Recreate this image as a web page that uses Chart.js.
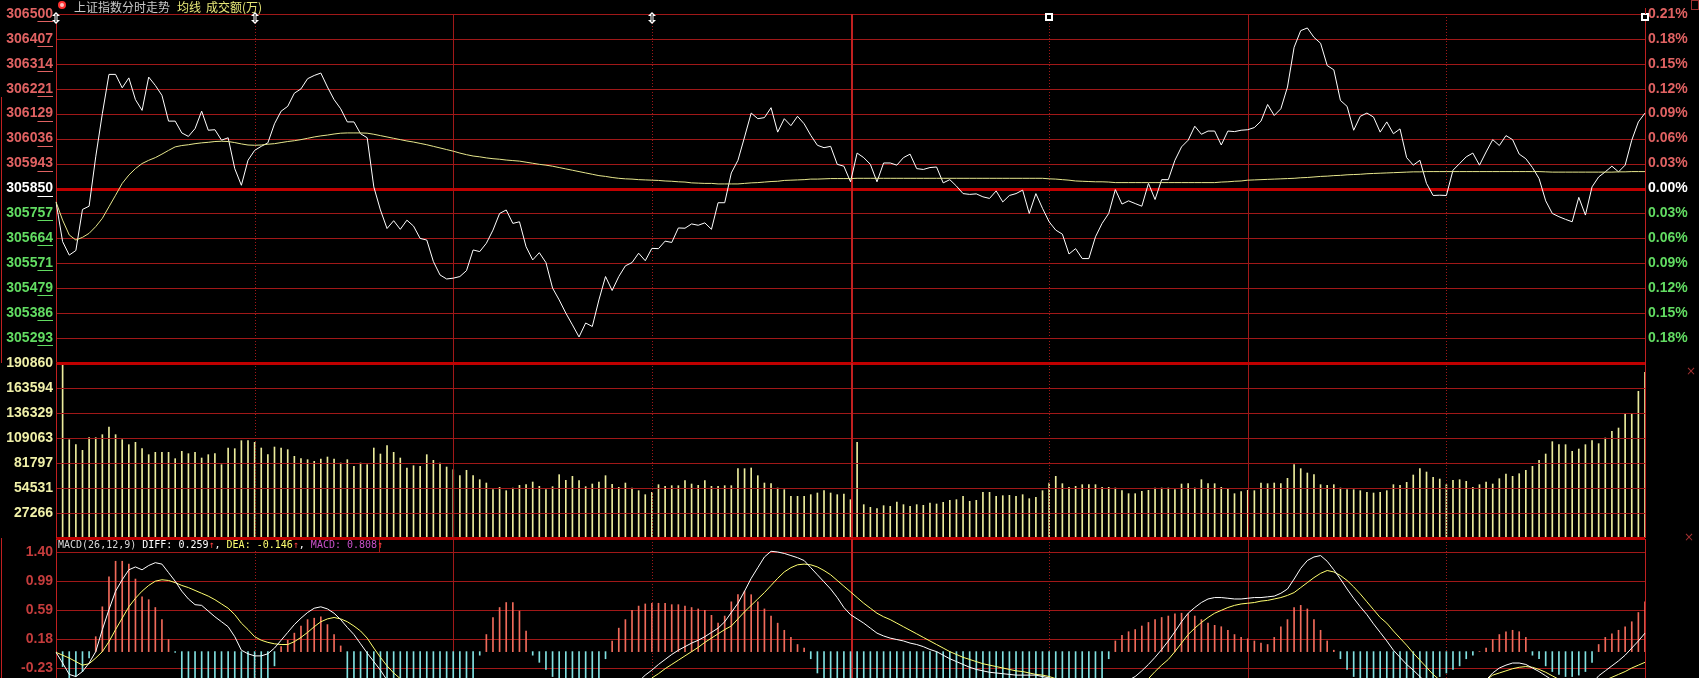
<!DOCTYPE html>
<html>
<head>
<meta charset="utf-8">
<title>上证指数分时走势</title>
<script src="https://cdn.jsdelivr.net/npm/chart.js@4.4.1/dist/chart.umd.min.js"></script>
<style>
  html, body { margin: 0; padding: 0; background: #000; overflow: hidden; }
  #wrap { position: relative; width: 1699px; height: 678px; }
  #wrap canvas { position: absolute; left: 0; top: 0; }
</style>
</head>
<body>
<div id="wrap">
  <canvas id="priceChart" width="1699" height="678"></canvas>
  <canvas id="volumeChart" width="1699" height="678"></canvas>
  <canvas id="macdChart" width="1699" height="678"></canvas>
</div>
<script>
// 分时价格 (每分钟一个点, 241 个)
const priceLine = [
  305800, 305652, 305602, 305619, 305772, 305784, 305968, 306129, 306275, 306275,
  306225, 306262, 306181, 306141, 306265, 306234, 306197, 306101, 306101, 306057,
  306044, 306073, 306138, 306067, 306069, 306030, 306039, 305924, 305862, 305955,
  305992, 306007, 306020, 306091, 306138, 306156, 306205, 306221, 306259, 306271,
  306280, 306228, 306181, 306147, 306098, 306098, 306054, 306039, 305856, 305770,
  305701, 305730, 305698, 305732, 305710, 305664, 305658, 305578, 305528, 305513,
  305516, 305522, 305544, 305621, 305615, 305646, 305695, 305757, 305770, 305720,
  305726, 305633, 305584, 305611, 305574, 305479, 305435, 305386, 305342, 305297,
  305349, 305336, 305435, 305522, 305470, 305522, 305562, 305574, 305609, 305581,
  305627, 305626, 305654, 305649, 305703, 305702, 305718, 305713, 305722, 305698,
  305797, 305797, 305908, 305955, 306042, 306131, 306110, 306114, 306151, 306060,
  306110, 306084, 306119, 306091, 306048, 306011, 306002, 306007, 305940, 305933,
  305875, 305982, 305965, 305940, 305875, 305945, 305945, 305937, 305965, 305978,
  305924, 305921, 305928, 305930, 305871, 305883, 305859, 305831, 305828, 305830,
  305819, 305813, 305841, 305800, 305824, 305831, 305844, 305757, 305831, 305776,
  305726, 305695, 305680, 305606, 305626, 305589, 305589, 305670, 305720, 305757,
  305846, 305792, 305804, 305794, 305784, 305869, 305809, 305883, 305883, 305955,
  306005, 306030, 306082, 306052, 306064, 306064, 306012, 306064, 306062, 306067,
  306069, 306077, 306101, 306163, 306122, 306147, 306228, 306376, 306438, 306448,
  306413, 306391, 306308, 306292, 306178, 306156, 306067, 306119, 306131, 306116,
  306060, 306098, 306054, 306072, 305965, 305937, 305955, 305869, 305824, 305825,
  305824, 305918, 305943, 305968, 305982, 305937, 305986, 306032, 306010, 306047,
  306032, 305978, 305961, 305928, 305887, 305804, 305757, 305745, 305735, 305726,
  305817, 305751, 305856, 305893, 305912, 305933, 305912, 305937, 306030, 306098,
  306131
];

// 均线
const avgLine = [
  305800, 305732, 305677, 305658, 305668, 305683, 305708, 305739, 305782, 305825,
  305869, 305900, 305924, 305943, 305955, 305965, 305978, 305992, 306005, 306010,
  306013, 306017, 306020, 306022, 306025, 306026, 306025, 306021, 306016, 306012,
  306011, 306012, 306015, 306017, 306021, 306025, 306028, 306032, 306037, 306042,
  306046, 306049, 306053, 306056, 306057, 306057, 306057, 306056, 306052, 306047,
  306042, 306037, 306032, 306027, 306023, 306018, 306013, 306007, 306001, 305995,
  305989, 305982, 305976, 305971, 305968, 305964, 305961, 305959, 305956, 305954,
  305952, 305948, 305944, 305940, 305937, 305933, 305928, 305923, 305918, 305913,
  305908, 305903, 305898, 305895, 305891, 305888, 305886, 305885, 305883, 305882,
  305881, 305880, 305878, 305877, 305875, 305874, 305871, 305870, 305869, 305869,
  305867, 305867, 305867, 305867, 305869, 305871, 305872, 305874, 305876, 305877,
  305880, 305881, 305882, 305883, 305885, 305885, 305886, 305887, 305887, 305887,
  305887, 305888, 305888, 305888, 305888, 305888, 305888, 305888, 305888, 305888,
  305888, 305888, 305888, 305888, 305888, 305888, 305888, 305888, 305888, 305888,
  305888, 305888, 305888, 305888, 305888, 305888, 305888, 305888, 305888, 305888,
  305886, 305885, 305883, 305881, 305878, 305877, 305876, 305875, 305875, 305874,
  305872, 305872, 305872, 305872, 305872, 305872, 305872, 305872, 305872, 305872,
  305872, 305872, 305872, 305872, 305872, 305872, 305874, 305875, 305877, 305878,
  305881, 305882, 305883, 305884, 305885, 305886, 305887, 305888, 305890, 305891,
  305893, 305895, 305896, 305898, 305899, 305901, 305902, 305903, 305905, 305906,
  305907, 305908, 305909, 305910, 305911, 305912, 305912, 305913, 305913, 305913,
  305913, 305913, 305913, 305913, 305913, 305913, 305913, 305913, 305913, 305913,
  305913, 305913, 305913, 305913, 305913, 305912, 305911, 305911, 305911, 305911,
  305911, 305911, 305911, 305911, 305911, 305911, 305912, 305912, 305913, 305913,
  305913
];

// 成交额(万)
const volume = [
  null,
  190860, 107233, 101780, 95601, 109414, 109414, 112685, 121046, 112685, 107233,
  101780, 104325, 97418, 90875, 93420, 93420, 93420, 86513, 94510, 91966,
  93420, 87240, 90875, 91966, 79970, 98145, 97418, 106142, 106142, 104325,
  98145, 90875, 99236, 98145, 96328, 89058, 86513, 85423, 83605, 86150,
  88331, 86150, 81788, 85423, 78153, 81788, 79970, 98145, 91602, 100690,
  93420, 87240, 76335, 78880, 78153, 90875, 84696, 81788, 77426, 74518,
  67975, 73791, 67975, 63613, 59978, 52708, 55252, 51617, 54525, 57433,
  58160, 61068, 56343, 52708, 55979, 69065, 62886, 67248, 62522, 55979,
  58887, 61068, 67975, 58524, 55252, 59978, 54525, 51617, 47255, 49800,
  58160, 56343, 57070, 57070, 62522, 58887, 57433, 62522, 56343, 56343,
  57070, 57070, 75608, 75608, 76335, 67975, 59978, 59251, 54525, 52708,
  45438, 45438, 45438, 47255, 49073, 51617, 49073, 47255, 47982, 41803,
  104325, 36350, 33442, 31988, 35260, 34533, 39258, 36350, 34533, 36350,
  35623, 38168, 37077, 38895, 41076, 41803, 45438, 39985, 41076, 49800,
  49800, 45438, 46165, 46528, 45438, 47255, 42893, 44347, 51617, 59978,
  67248, 59251, 55252, 56343, 58160, 58160, 58160, 55252, 55252, 54525,
  51617, 48346, 48346, 50890, 51981, 54525, 54525, 54525, 52708, 58887,
  59251, 54525, 63613, 59251, 59251, 55252, 54162, 48346, 50527, 51981,
  51617, 59978, 59251, 59978, 59251, 65067, 79970, 75608, 70883, 69065,
  58160, 57433, 58160, 54525, 52708, 52708, 51617, 49800, 49073, 49800,
  51617, 58160, 57433, 60705, 68702, 75608, 71973, 66157, 64340, 58160,
  62886, 63613, 61795, 55252, 58160, 61068, 58887, 64703, 69792, 67248,
  70156, 73791, 78153, 84696, 91602, 105052, 101780, 101780, 94510, 97055,
  101780, 106142, 102871, 109050, 116320, 119955, 135586, 135586, 159940, 180660
];

// MACD(26,12,9)
const diffLine = [
  -0.01, -0.16, -0.32, -0.35, -0.28, -0.16, 0.00, 0.31, 0.59, 0.85,
  1.01, 1.15, 1.19, 1.15, 1.21, 1.25, 1.23, 1.11, 0.99, 0.85,
  0.74, 0.66, 0.65, 0.57, 0.49, 0.42, 0.35, 0.21, 0.02, -0.03,
  -0.06, -0.06, -0.03, 0.05, 0.16, 0.27, 0.38, 0.47, 0.55, 0.61,
  0.63, 0.60, 0.54, 0.45, 0.34, 0.24, 0.11, -0.02, -0.14, -0.26,
  -0.40, -0.45, -0.52, -0.58, -0.63, -0.68, -0.74, -0.80, -0.86, -0.92,
  -0.97, -1.00, -1.02, -1.00, -0.98, -0.95, -0.90, -0.85, -0.82, -0.82,
  -0.84, -0.88, -0.92, -0.95, -0.98, -1.03, -1.08, -1.12, -1.16, -1.20,
  -1.18, -1.12, -1.02, -0.92, -0.85, -0.76, -0.66, -0.56, -0.42, -0.33,
  -0.26, -0.18, -0.11, -0.04, 0.02, 0.07, 0.12, 0.16, 0.21, 0.27,
  0.33, 0.42, 0.55, 0.68, 0.85, 1.03, 1.18, 1.33, 1.41, 1.40,
  1.38, 1.35, 1.32, 1.28, 1.18, 1.08, 0.98, 0.88, 0.76, 0.62,
  0.52, 0.46, 0.40, 0.33, 0.26, 0.22, 0.19, 0.17, 0.15, 0.12,
  0.10, 0.07, 0.03, 0.00, -0.05, -0.10, -0.14, -0.18, -0.22, -0.25,
  -0.27, -0.29, -0.30, -0.31, -0.32, -0.33, -0.33, -0.33, -0.33, -0.35,
  -0.37, -0.40, -0.45, -0.52, -0.58, -0.64, -0.66, -0.64, -0.60, -0.55,
  -0.50, -0.46, -0.40, -0.35, -0.27, -0.18, -0.08, 0.03, 0.15, 0.28,
  0.42, 0.54, 0.62, 0.69, 0.74, 0.76, 0.76, 0.75, 0.74, 0.74,
  0.75, 0.76, 0.76, 0.77, 0.78, 0.82, 0.88, 1.02, 1.17, 1.28,
  1.33, 1.35, 1.27, 1.15, 1.02, 0.88, 0.75, 0.63, 0.52, 0.39,
  0.27, 0.15, 0.02, -0.08, -0.18, -0.26, -0.35, -0.44, -0.52, -0.58,
  -0.62, -0.62, -0.60, -0.56, -0.50, -0.46, -0.40, -0.30, -0.23, -0.19,
  -0.16, -0.16, -0.18, -0.23, -0.28, -0.34, -0.40, -0.46, -0.52, -0.56,
  -0.58, -0.55, -0.45, -0.34, -0.27, -0.20, -0.13, -0.05, 0.05, 0.15,
  0.26
];

const deaLine = [
  -0.01, -0.05, -0.09, -0.14, -0.19, -0.17, -0.09, 0.00, 0.14, 0.31,
  0.47, 0.63, 0.75, 0.85, 0.93, 0.99, 1.01, 1.00, 0.97, 0.93,
  0.90, 0.86, 0.82, 0.78, 0.73, 0.67, 0.61, 0.52, 0.40, 0.31,
  0.21, 0.16, 0.13, 0.11, 0.10, 0.10, 0.14, 0.20, 0.27, 0.35,
  0.42, 0.46, 0.48, 0.46, 0.42, 0.36, 0.29, 0.19, 0.05, -0.08,
  -0.20, -0.30, -0.38, -0.45, -0.50, -0.55, -0.60, -0.65, -0.70, -0.75,
  -0.80, -0.84, -0.88, -0.90, -0.92, -0.92, -0.91, -0.90, -0.88, -0.87,
  -0.87, -0.87, -0.88, -0.90, -0.92, -0.95, -0.98, -1.01, -1.04, -1.07,
  -1.09, -1.09, -1.07, -1.03, -0.98, -0.92, -0.84, -0.76, -0.66, -0.55,
  -0.37, -0.31, -0.24, -0.18, -0.12, -0.06, 0.00, 0.06, 0.13, 0.19,
  0.25, 0.31, 0.36, 0.46, 0.56, 0.65, 0.74, 0.83, 0.93, 1.03,
  1.12, 1.18, 1.22, 1.23, 1.22, 1.19, 1.14, 1.08, 1.00, 0.92,
  0.84, 0.76, 0.68, 0.61, 0.54, 0.49, 0.45, 0.40, 0.35, 0.30,
  0.25, 0.20, 0.15, 0.10, 0.05, 0.00, -0.04, -0.08, -0.11, -0.14,
  -0.17, -0.19, -0.21, -0.23, -0.25, -0.27, -0.28, -0.30, -0.32, -0.33,
  -0.35, -0.38, -0.41, -0.45, -0.49, -0.53, -0.56, -0.58, -0.58, -0.57,
  -0.55, -0.53, -0.50, -0.47, -0.44, -0.38, -0.28, -0.19, -0.11, 0.00,
  0.12, 0.24, 0.33, 0.41, 0.48, 0.54, 0.58, 0.62, 0.65, 0.67,
  0.68, 0.69, 0.71, 0.72, 0.74, 0.76, 0.79, 0.83, 0.90, 0.97,
  1.04, 1.10, 1.14, 1.12, 1.07, 1.00, 0.91, 0.81, 0.70, 0.59,
  0.48, 0.40, 0.29, 0.19, 0.09, -0.02, -0.12, -0.22, -0.32, -0.40,
  -0.46, -0.50, -0.52, -0.52, -0.50, -0.46, -0.40, -0.33, -0.30, -0.27,
  -0.24, -0.22, -0.21, -0.22, -0.25, -0.29, -0.34, -0.39, -0.43, -0.47,
  -0.51, -0.50, -0.48, -0.44, -0.40, -0.36, -0.32, -0.28, -0.23, -0.19,
  -0.15
];

const macdBars = [
  0, -0.21, -0.38, -0.35, -0.28, -0.09, 0.21, 0.63, 1.05, 1.27,
  1.27, 1.23, 1.02, 0.77, 0.73, 0.62, 0.45, 0.17, -0.01, -0.40,
  -0.45, -0.50, -0.55, -0.60, -0.60, -0.60, -0.60, -0.65, -0.75, -0.75,
  -0.65, -0.50, -0.38, -0.20, 0.07, 0.16, 0.26, 0.36, 0.45, 0.47,
  0.49, 0.38, 0.24, 0.08, -0.40, -0.55, -0.70, -0.80, -0.90, -0.95,
  -0.95, -0.90, -0.85, -0.80, -0.75, -0.70, -0.68, -0.65, -0.62, -0.60,
  -0.55, -0.50, -0.45, -0.40, -0.05, 0.24, 0.48, 0.62, 0.69, 0.69,
  0.57, 0.29, -0.05, -0.15, -0.25, -0.35, -0.45, -0.50, -0.50, -0.50,
  -0.45, -0.42, -0.38, -0.10, 0.15, 0.33, 0.45, 0.58, 0.64, 0.67,
  0.68, 0.68, 0.68, 0.66, 0.66, 0.64, 0.62, 0.60, 0.58, 0.51,
  0.40, 0.50, 0.70, 0.80, 0.85, 0.80, 0.70, 0.60, 0.50, 0.40,
  0.30, 0.20, 0.10, 0.05, -0.10, -0.30, -0.45, -0.55, -0.65, -0.70,
  -0.75, -0.75, -0.70, -0.65, -0.60, -0.60, -0.58, -0.55, -0.50, -0.48,
  -0.45, -0.45, -0.45, -0.45, -0.45, -0.45, -0.45, -0.45, -0.43, -0.42,
  -0.40, -0.40, -0.40, -0.40, -0.40, -0.40, -0.40, -0.40, -0.40, -0.40,
  -0.40, -0.42, -0.45, -0.48, -0.50, -0.50, -0.48, -0.45, -0.38, -0.10,
  0.15, 0.23, 0.28, 0.31, 0.36, 0.41, 0.45, 0.48, 0.50, 0.53,
  0.54, 0.53, 0.50, 0.45, 0.40, 0.37, 0.35, 0.30, 0.24, 0.20,
  0.18, 0.15, 0.12, 0.10, 0.20, 0.35, 0.45, 0.62, 0.65, 0.60,
  0.45, 0.30, 0.15, 0.02, -0.10, -0.25, -0.35, -0.40, -0.45, -0.50,
  -0.50, -0.55, -0.60, -0.60, -0.60, -0.55, -0.50, -0.45, -0.40, -0.35,
  -0.30, -0.25, -0.20, -0.10, -0.05, 0.00, 0.05, 0.17, 0.24, 0.28,
  0.30, 0.28, 0.20, -0.05, -0.10, -0.20, -0.28, -0.32, -0.35, -0.35,
  -0.33, -0.28, -0.15, 0.10, 0.20, 0.25, 0.30, 0.35, 0.42, 0.55,
  0.70
];

// 刻度
const priceTicks = [306500, 306407, 306314, 306221, 306129, 306036, 305943, 305850,
  305757, 305664, 305571, 305479, 305386, 305293];
const pctTicks = ['0.21%', '0.18%', '0.15%', '0.12%', '0.09%', '0.06%', '0.03%', '0.00%',
  '0.03%', '0.06%', '0.09%', '0.12%', '0.15%', '0.18%'];
const volumeTicks = [190860, 163594, 136329, 109063, 81797, 54531, 27266];
const macdTicks = [1.40, 0.99, 0.59, 0.18, -0.23];

const PREV_CLOSE = 305850;
const minutes = priceLine.map((_, i) => i);

const GRID = '#a01818';
const THICK = '#c00000';
const BORDER = '#c02020';
const RED_TXT = '#e06262';
const GREEN_TXT = '#62dc62';
const LABEL_FONT = 'bold 14px "Liberation Sans", Arial, sans-serif';

function dottedV(ctx, x, y1, y2) {
  for (let y = y1; y < y2; y += 3) ctx.fillRect(x, y, 1, 1);
}

// 横线 + 竖线 (30 分钟一格)
function drawGrid(chart, ticks, thickTicks) {
  const { ctx, chartArea: a, scales: { x, y } } = chart;
  const top = Math.round(a.top), bottom = Math.round(a.bottom);
  ctx.save();
  ticks.forEach(t => {
    const py = Math.round(y.getPixelForValue(t));
    if (thickTicks.includes(t)) {
      ctx.fillStyle = THICK;
      ctx.fillRect(a.left, py - 1, a.right - a.left, 3);
    } else {
      ctx.fillStyle = GRID;
      ctx.fillRect(a.left, py, a.right - a.left, 1);
    }
  });
  ctx.fillStyle = GRID;
  [30, 90, 150, 210].forEach(m => dottedV(ctx, Math.round(x.getPixelForValue(m)), top, bottom));
  [60, 180].forEach(m => ctx.fillRect(Math.round(x.getPixelForValue(m)), top, 1, bottom - top));
  ctx.fillStyle = BORDER;
  ctx.fillRect(Math.round(x.getPixelForValue(120)), top, 2, bottom - top);
  ctx.fillRect(Math.round(a.left), top, 1, bottom - top);
  ctx.fillRect(Math.round(a.right), top, 1, bottom - top);
  ctx.restore();
}

function leftLabel(ctx, text, y, color, underline) {
  ctx.fillStyle = color;
  ctx.textAlign = 'right';
  ctx.textBaseline = 'middle';
  ctx.fillText(text, 53, y);
  if (underline) {
    const w = ctx.measureText(text.slice(-2)).width;
    ctx.fillRect(53 - w, Math.round(y) + 7, w, 1);
  }
}

function arrowIcon(ctx, x, y) {
  ctx.fillStyle = '#ffffff';
  ctx.beginPath();
  ctx.moveTo(x, y - 6); ctx.lineTo(x + 4, y - 2); ctx.lineTo(x - 4, y - 2); ctx.closePath();
  ctx.moveTo(x, y + 6); ctx.lineTo(x + 4, y + 2); ctx.lineTo(x - 4, y + 2); ctx.closePath();
  ctx.fill();
  ctx.fillRect(x - 1.5, y - 2, 3, 4);
  ctx.fillStyle = '#000';
  ctx.fillRect(x - 0.5, y - 4, 1, 8);
}

function squareIcon(ctx, x, y) {
  ctx.fillStyle = '#ffffff';
  ctx.fillRect(x - 4, y - 4, 8, 8);
  ctx.fillStyle = '#000';
  ctx.fillRect(x - 2, y - 2, 4, 4);
}

const priceDecor = {
  id: 'priceDecor',
  beforeDatasetsDraw(chart) {
    drawGrid(chart, priceTicks, [PREV_CLOSE]);
  },
  afterDraw(chart) {
    const { ctx, chartArea: a, scales: { x, y } } = chart;
    ctx.save();
    ctx.font = LABEL_FONT;
    priceTicks.forEach((t, k) => {
      const py = y.getPixelForValue(t);
      const color = t > PREV_CLOSE ? RED_TXT : (t === PREV_CLOSE ? '#ffffff' : GREEN_TXT);
      leftLabel(ctx, String(t), py, color, true);
      ctx.fillStyle = color;
      ctx.textAlign = 'left';
      ctx.fillText(pctTicks[k], a.right + 3, py);
    });
    // 标题
    ctx.beginPath();
    ctx.arc(62, 5, 3, 0, Math.PI * 2);
    ctx.fillStyle = '#ffc0c0';
    ctx.fill();
    ctx.lineWidth = 2;
    ctx.strokeStyle = '#ff3030';
    ctx.stroke();
    ctx.font = '12px "Noto Sans CJK SC", sans-serif';
    ctx.textAlign = 'left';
    ctx.textBaseline = 'middle';
    ctx.fillStyle = '#c8c8c8';
    ctx.fillText('上证指数分时走势', 74, 7);
    ctx.fillStyle = '#e8e878';
    ctx.fillText('均线', 177, 7);
    ctx.fillText('成交额(万)', 206, 7);
    // 顶部标记
    [0, 30, 90].forEach(m => arrowIcon(ctx, Math.round(x.getPixelForValue(m)), 18));
    [150, 240].forEach(m => squareIcon(ctx, Math.round(x.getPixelForValue(m)), 17));
    // 外框小件
    ctx.fillStyle = BORDER;
    ctx.fillRect(1, 97, 1, 266);
    ctx.fillRect(1, 538, 1, 140);
    ctx.fillRect(Math.round(a.right), 8, 1, 6);
    ctx.strokeStyle = '#a03030';
    ctx.lineWidth = 1;
    ctx.strokeRect(1691.5, 0.5, 7, 9);
    ctx.font = '12px "DejaVu Sans", sans-serif';
    ctx.fillStyle = '#a03030';
    ctx.textAlign = 'center';
    ctx.fillText('×', 1691, 372);
    ctx.fillText('×', 1689, 538);
    ctx.restore();
  }
};

const volumeDecor = {
  id: 'volumeDecor',
  afterDatasetsDraw(chart) {
    drawGrid(chart, [...volumeTicks, 0], [volumeTicks[0], 0]);
  },
  afterDraw(chart) {
    const { ctx, scales: { y } } = chart;
    ctx.save();
    ctx.font = LABEL_FONT;
    volumeTicks.forEach(t => leftLabel(ctx, String(t), y.getPixelForValue(t), '#f0f0a8', false));
    ctx.restore();
  }
};

const macdDecor = {
  id: 'macdDecor',
  beforeDatasetsDraw(chart) {
    drawGrid(chart, macdTicks, []);
  },
  afterDraw(chart) {
    const { ctx, scales: { y } } = chart;
    ctx.save();
    ctx.font = LABEL_FONT;
    macdTicks.forEach(t => leftLabel(ctx, t.toFixed(2), y.getPixelForValue(t), '#c43c3c', false));
    // 指标标题
    ctx.fillStyle = '#000';
    ctx.fillRect(57, 540, 323, 11);
    ctx.fillStyle = GRID;
    ctx.fillRect(379, 539, 1, 13);
    ctx.font = '10px "DejaVu Sans Mono", monospace';
    ctx.textAlign = 'left';
    ctx.textBaseline = 'middle';
    const parts = [
      ['MACD(26,12,9) ', '#d8d8d8'], ['DIFF: 0.259', '#ffffff'], ['↑', '#ff4040'], [', ', '#ffffff'],
      ['DEA: -0.146', '#ffff70'], ['↑', '#ff4040'], [', ', '#ffffff'],
      ['MACD: 0.808', '#c850c8'], ['↑', '#ff4040']
    ];
    let px = 58;
    parts.forEach(([s, c]) => {
      ctx.fillStyle = c;
      ctx.fillText(s, px, 545);
      px += ctx.measureText(s).width;
    });
    ctx.restore();
  }
};

const baseOptions = (padding, yMin, yMax) => ({
  responsive: false,
  animation: false,
  devicePixelRatio: 1,
  layout: { padding },
  plugins: { legend: { display: false }, tooltip: { enabled: false } },
  scales: {
    x: { type: 'category', display: false, offset: false },
    y: { display: false, min: yMin, max: yMax }
  }
});

new Chart(document.getElementById('priceChart'), {
  type: 'line',
  data: {
    labels: minutes,
    datasets: [
      { data: avgLine, borderColor: '#e6e68c', borderWidth: 1, pointRadius: 0, tension: 0 },
      { data: priceLine, borderColor: '#ffffff', borderWidth: 1, pointRadius: 0, tension: 0 }
    ]
  },
  options: baseOptions({ left: 56, right: 54, top: 14, bottom: 315 }, 305200, 306500),
  plugins: [priceDecor]
});

new Chart(document.getElementById('volumeChart'), {
  type: 'bar',
  data: {
    labels: minutes,
    datasets: [
      { data: volume, backgroundColor: '#ecec9c', barThickness: 1, categoryPercentage: 1, barPercentage: 1 }
    ]
  },
  options: baseOptions({ left: 56, right: 54, top: 363, bottom: 140 }, 0, 190860),
  plugins: [volumeDecor]
});

new Chart(document.getElementById('macdChart'), {
  type: 'bar',
  data: {
    labels: minutes,
    datasets: [
      { type: 'line', data: diffLine, borderColor: '#ffffff', borderWidth: 1, pointRadius: 0, tension: 0, order: 1 },
      { type: 'line', data: deaLine, borderColor: '#ffff70', borderWidth: 1, pointRadius: 0, tension: 0, order: 1 },
      {
        data: macdBars, barThickness: 1, order: 2,
        backgroundColor: ctx => (ctx.raw >= 0 ? '#f06a5a' : '#80e0e0')
      }
    ]
  },
  options: baseOptions({ left: 56, right: 54, top: 539, bottom: 0 }, -0.3705, 1.5827),
  plugins: [macdDecor]
});
</script>
</body>
</html>
